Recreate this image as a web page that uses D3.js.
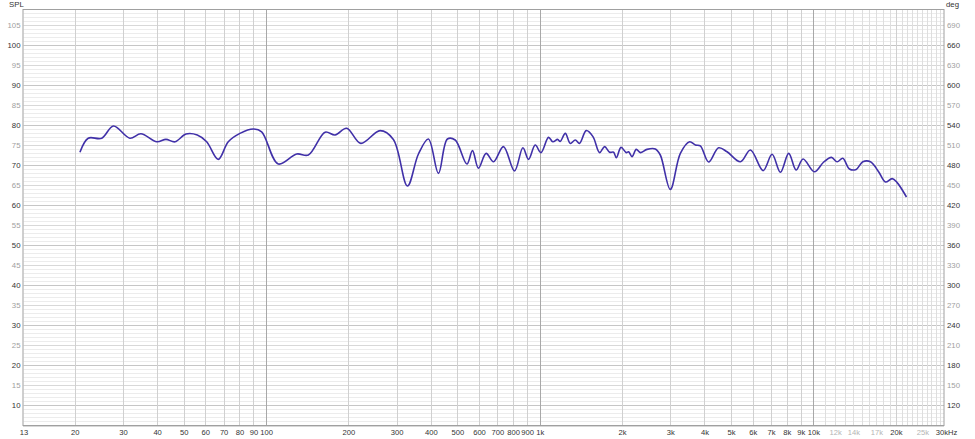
<!DOCTYPE html>
<html>
<head>
<meta charset="utf-8">
<script src="https://cdn.jsdelivr.net/npm/d3@7"></script>
<style>
  html, body { margin: 0; padding: 0; background: #fff; }
  svg { display: block; }
  text { font-family: "Liberation Sans", Arial, sans-serif; }
</style>
</head>
<body>
<svg id="chart" width="975" height="439"></svg>
<script>
// ---- data ----
const freqs = [20.9, 22.4, 25.1, 27.7, 31.8, 34.9, 39.9, 43.1, 46.5, 51.0, 56.1, 60.7, 66.9, 72.8, 80.3, 89.9, 96.4,
  110.9, 129.5, 142.8, 164.4, 178.8, 197, 222, 261, 292, 328.6, 360.5, 392, 426.6, 460, 491, 542, 568, 597, 637, 678,
  737, 809, 868, 910, 963, 1010, 1077, 1117, 1162, 1188, 1240, 1293, 1349, 1398, 1479, 1565, 1655, 1726, 1800, 1862,
  1905, 1982, 2072, 2112, 2174, 2253, 2331, 2466, 2644, 2758, 3000, 3265, 3531, 3704, 3863, 4141, 4505, 4836, 5409,
  5886, 6549, 7063, 7575, 8124, 8644, 9170, 10085, 10906, 11637, 12211, 12800, 13543, 14330, 15150, 16160, 17330,
  18340, 19400, 20230, 21880];
const spl = [73.2, 76.7, 76.7, 79.75, 76.7, 77.8, 75.8, 76.4, 75.8, 77.75, 77.5, 75.8, 71.4, 75.8, 77.9, 79.0, 78.3,
  70.25, 72.75, 72.5, 78.2, 77.5, 79.2, 75.4, 78.6, 76.4, 64.75, 72.75, 76.5, 67.9, 76.5, 76.25, 70.25, 73.6, 69.2, 72.9, 70.8,
  74.6, 68.5, 74.3, 71.4, 75.0, 73.1, 76.9, 75.8, 76.4, 75.9, 77.9, 75.4, 76.25, 75.4, 78.6, 77.1, 73.1, 74.6, 73.2, 73.2,
  71.8, 74.4, 73.1, 73.3, 72.1, 73.9, 73.1, 73.9, 74.0, 72.5, 63.9, 72.9, 75.8, 75.0, 74.8, 70.75, 74.3, 73.3, 70.8,
  73.75, 68.6, 72.7, 68.2, 72.9, 68.75, 71.5, 68.3, 70.75, 71.9, 70.8, 71.7, 69.0, 68.9, 70.8, 70.8, 68.25,
  65.75, 66.6, 65.6, 62.0];

const xTickValues = [13, 20, 30, 40, 50, 60, 70, 80, 90, 100, 200, 300, 400, 500, 600, 700, 800, 900, 1000,
  2000, 3000, 4000, 5000, 6000, 7000, 8000, 9000, 10000, 12000, 14000, 17000, 20000, 25000, 30000];
const xTickLabels = ["13", "20", "30", "40", "50", "60", "70", "80", "90", "100", "200", "300", "400", "500", "600",
  "700", "800", "900", "1k", "2k", "3k", "4k", "5k", "6k", "7k", "8k", "9k", "10k", "12k", "14k", "17k", "20k", "25k", "30kHz"];
const xTickFaint = [12000, 14000, 17000, 25000];

const splTicks = [10, 15, 20, 25, 30, 35, 40, 45, 50, 55, 60, 65, 70, 75, 80, 85, 90, 95, 100, 105];
const degTicks = [120, 150, 180, 210, 240, 270, 300, 330, 360, 390, 420, 450, 480, 510, 540, 570, 600, 630, 660, 690];

// ---- layout ----
const L = 23.5, R = 944, T = 9, B = 425;
const svg = d3.select("#chart");

const x = d3.scaleLog().domain([13, 30000]).range([L, R]);
const y = d3.scaleLinear().domain([5, 109]).range([B, T]);
const yDeg = d3.scaleLinear().domain([60 + 6 * 5, 60 + 6 * 109]).range([B, T]);

// ---- grid ----
const grid = svg.append("g");
d3.range(5, 110).forEach(d => {
  const col = d % 10 === 0 ? "#c6c6c6" : (d % 5 === 0 ? "#d8d8d8" : "#ececec");
  grid.append("line")
    .attr("x1", L).attr("x2", R)
    .attr("y1", Math.round(y(d)) + 0.5).attr("y2", Math.round(y(d)) + 0.5)
    .attr("stroke", col).attr("stroke-width", 1);
});
const vLines = [];
[10, 100, 1000].forEach(dec => {
  for (let m = 1; m <= 9; m++) {
    const f = m * dec;
    if (f >= 13 && f < 30000) vLines.push({ f, major: m === 1 });
  }
});
for (let f = 10000; f < 30000; f += 1000) {
  vLines.push({ f, major: f === 10000, fine: f !== 10000 && f !== 20000 });
}
vLines.forEach(v => {
  const col = v.major ? "#a8a8a8" : (v.fine ? "#dedede" : "#d0d0d0");
  grid.append("line")
    .attr("x1", Math.round(x(v.f)) + 0.5).attr("x2", Math.round(x(v.f)) + 0.5)
    .attr("y1", T).attr("y2", B)
    .attr("stroke", col).attr("stroke-width", 1);
});

// frame
svg.append("rect")
  .attr("x", L - 0.5).attr("y", T + 0.5).attr("width", R - L + 0.5).attr("height", B - T)
  .attr("fill", "none").attr("stroke", "#a0a0a0").attr("stroke-width", 1);
svg.append("line").attr("x1", L - 0.5).attr("x2", R).attr("y1", B + 1.5).attr("y2", B + 1.5)
  .attr("stroke", "#d8d8d8");

// ---- axes ----
const xAxis = d3.axisBottom(x).tickValues(xTickValues)
  .tickFormat((d, i) => xTickLabels[i]).tickSize(0).tickPadding(5);
const gx = svg.append("g").attr("transform", `translate(0,${B})`).call(xAxis);
gx.select(".domain").remove();
gx.selectAll("text")
  .attr("font-size", 7.6)
  .attr("font-family", "Liberation Sans, Arial, sans-serif")
  .attr("fill", d => xTickFaint.includes(d) ? "#b4b4b4" : "#333")
  .attr("dx", d => d === 30000 ? 2 : 0);

const yAxis = d3.axisLeft(y).tickValues(splTicks).tickFormat(d3.format("d")).tickSize(0).tickPadding(3);
const gy = svg.append("g").attr("transform", `translate(${L},0)`).call(yAxis);
gy.select(".domain").remove();
gy.selectAll("text")
  .attr("font-size", 7.8)
  .attr("font-family", "Liberation Sans, Arial, sans-serif")
  .attr("fill", d => d % 10 === 0 ? "#333" : "#a0a0a0");

const yAxisR = d3.axisRight(yDeg).tickValues(degTicks).tickFormat(d3.format("d")).tickSize(0).tickPadding(3);
const gyr = svg.append("g").attr("transform", `translate(${R},0)`).call(yAxisR);
gyr.select(".domain").remove();
gyr.selectAll("text")
  .attr("font-size", 7.8)
  .attr("font-family", "Liberation Sans, Arial, sans-serif")
  .attr("fill", d => ((d - 60) / 6) % 10 === 0 ? "#333" : "#a0a0a0");

svg.append("text").attr("x", 9).attr("y", 7).attr("font-size", 7.8).attr("fill", "#333").text("SPL");
svg.append("text").attr("x", 946).attr("y", 7).attr("font-size", 7.8).attr("fill", "#333").text("deg");

// ---- curve ----
const data = freqs.map((f, i) => ({ f, v: spl[i] }));
const line = d3.line().x(d => x(d.f)).y(d => y(d.v)).curve(d3.curveCatmullRom.alpha(0.5));
svg.append("path").datum(data)
  .attr("d", line)
  .attr("fill", "none")
  .attr("stroke", "#4030a8")
  .attr("stroke-width", 1.6)
  .attr("stroke-linejoin", "round");
</script>
</body>
</html>
